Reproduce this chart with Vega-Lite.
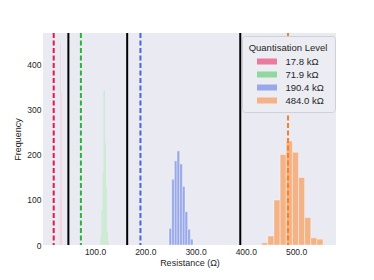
{
  "$schema": "https://vega.github.io/schema/vega-lite/v6.json",
  "autosize": {"type": "none"},
  "width": 293,
  "height": 212,
  "padding": {"left": 43, "top": 33, "right": 38, "bottom": 35},
  "background": "white",
  "config": {
    "font": "Liberation Sans",
    "view": {"fill": "#eaeaf2", "stroke": null},
    "axis": {"labelColor": "#262626", "titleColor": "#262626", "titleFontWeight": "normal", "ticks": false, "domain": false, "grid": false, "labelFontSize": 8.5, "titleFontSize": 9}
  },
  "datasets": {
    "hist": [
      {"level": "17.8 kΩ", "bin_start": 30.0, "bin_end": 31.0, "count": 110},
      {"level": "17.8 kΩ", "bin_start": 31.0, "bin_end": 32.0, "count": 450},
      {"level": "17.8 kΩ", "bin_start": 32.0, "bin_end": 33.0, "count": 340},
      {"level": "17.8 kΩ", "bin_start": 33.0, "bin_end": 34.0, "count": 100},
      {"level": "71.9 kΩ", "bin_start": 109, "bin_end": 111, "count": 3},
      {"level": "71.9 kΩ", "bin_start": 111, "bin_end": 113, "count": 20},
      {"level": "71.9 kΩ", "bin_start": 113, "bin_end": 115, "count": 78},
      {"level": "71.9 kΩ", "bin_start": 115, "bin_end": 117, "count": 163},
      {"level": "71.9 kΩ", "bin_start": 117, "bin_end": 119, "count": 344},
      {"level": "71.9 kΩ", "bin_start": 119, "bin_end": 121, "count": 227},
      {"level": "71.9 kΩ", "bin_start": 121, "bin_end": 123, "count": 127},
      {"level": "71.9 kΩ", "bin_start": 123, "bin_end": 125, "count": 30},
      {"level": "71.9 kΩ", "bin_start": 125, "bin_end": 127, "count": 8},
      {"level": "190.4 kΩ", "bin_start": 247.3, "bin_end": 252.6, "count": 37},
      {"level": "190.4 kΩ", "bin_start": 252.6, "bin_end": 257.9, "count": 146},
      {"level": "190.4 kΩ", "bin_start": 257.9, "bin_end": 263.2, "count": 187},
      {"level": "190.4 kΩ", "bin_start": 263.2, "bin_end": 268.5, "count": 209},
      {"level": "190.4 kΩ", "bin_start": 268.5, "bin_end": 273.8, "count": 180},
      {"level": "190.4 kΩ", "bin_start": 273.8, "bin_end": 279.1, "count": 130},
      {"level": "190.4 kΩ", "bin_start": 279.1, "bin_end": 284.4, "count": 74},
      {"level": "190.4 kΩ", "bin_start": 284.4, "bin_end": 289.7, "count": 35},
      {"level": "190.4 kΩ", "bin_start": 289.7, "bin_end": 295.0, "count": 13},
      {"level": "484.0 kΩ", "bin_start": 431.7, "bin_end": 443.9, "count": 5},
      {"level": "484.0 kΩ", "bin_start": 443.9, "bin_end": 456.1, "count": 20},
      {"level": "484.0 kΩ", "bin_start": 456.1, "bin_end": 468.3, "count": 100},
      {"level": "484.0 kΩ", "bin_start": 468.3, "bin_end": 480.5, "count": 201},
      {"level": "484.0 kΩ", "bin_start": 480.5, "bin_end": 492.7, "count": 231},
      {"level": "484.0 kΩ", "bin_start": 492.7, "bin_end": 504.9, "count": 206},
      {"level": "484.0 kΩ", "bin_start": 504.9, "bin_end": 517.1, "count": 150},
      {"level": "484.0 kΩ", "bin_start": 517.1, "bin_end": 529.3, "count": 61},
      {"level": "484.0 kΩ", "bin_start": 529.3, "bin_end": 541.5, "count": 16},
      {"level": "484.0 kΩ", "bin_start": 541.5, "bin_end": 553.7, "count": 13}
    ],
    "targets": [
      {"level": "17.8 kΩ", "value": 17.8},
      {"level": "71.9 kΩ", "value": 71.9},
      {"level": "190.4 kΩ", "value": 190.4},
      {"level": "484.0 kΩ", "value": 484.0}
    ],
    "thresholds": [
      {"value": 47},
      {"value": 164},
      {"value": 389}
    ]
  },
  "layer": [
    {
      "data": {"name": "hist"},
      "mark": {"type": "bar", "stroke": "white", "strokeWidth": 0.6, "strokeOpacity": 0.6},
      "encoding": {
        "x": {"field": "bin_start", "type": "quantitative", "scale": {"domain": [-3.5, 579.5], "nice": false, "zero": false},
              "axis": {"values": [100, 200, 300, 400, 500], "format": ".1f", "title": "Resistance (Ω)", "labelPadding": 2, "titlePadding": 3}},
        "x2": {"field": "bin_end"},
        "y": {"field": "count", "type": "quantitative", "scale": {"domain": [0, 471], "nice": false},
              "axis": {"values": [0, 100, 200, 300, 400], "title": "Frequency", "labelPadding": 2, "titlePadding": 4}},
        "y2": {"datum": 0},
        "color": {"field": "level", "type": "nominal",
                  "scale": {"domain": ["17.8 kΩ", "71.9 kΩ", "190.4 kΩ", "484.0 kΩ"], "range": ["#ea7b9d", "#92d79f", "#98a8eb", "#f4b386"]},
                  "legend": {"title": "Quantisation Level", "orient": "none", "legendX": 199, "legendY": 3,
                             "titleFontWeight": "normal", "titleFontSize": 9.5, "titleAnchor": "middle", "titleColor": "#262626", "titlePadding": 4,
                             "labelFontSize": 9.5, "labelColor": "#262626", "labelOffset": 13.5,
                             "symbolType": "M-2,-0.6H2V0.6H-2Z", "symbolSize": 100, "symbolStrokeWidth": 0, "symbolOpacity": 1,
                             "symbolOffset": 9, "rowPadding": 3, "padding": 7,
                             "fillColor": "#ececf3", "strokeColor": "#d0d0d8", "cornerRadius": 3}}
      }
    },
    {
      "data": {"name": "targets"},
      "mark": {"type": "rule", "strokeWidth": 2, "strokeDash": [5, 2.5]},
      "encoding": {
        "x": {"field": "value", "type": "quantitative"},
        "stroke": {"field": "level", "type": "nominal",
                   "scale": {"domain": ["17.8 kΩ", "71.9 kΩ", "190.4 kΩ", "484.0 kΩ"], "range": ["#e8184d", "#2db33c", "#4a66dd", "#ff7f27"]},
                   "legend": null}
      }
    },
    {
      "data": {"name": "thresholds"},
      "mark": {"type": "rule", "strokeWidth": 2, "color": "black"},
      "encoding": {
        "x": {"field": "value", "type": "quantitative"}
      }
    }
  ]
}
